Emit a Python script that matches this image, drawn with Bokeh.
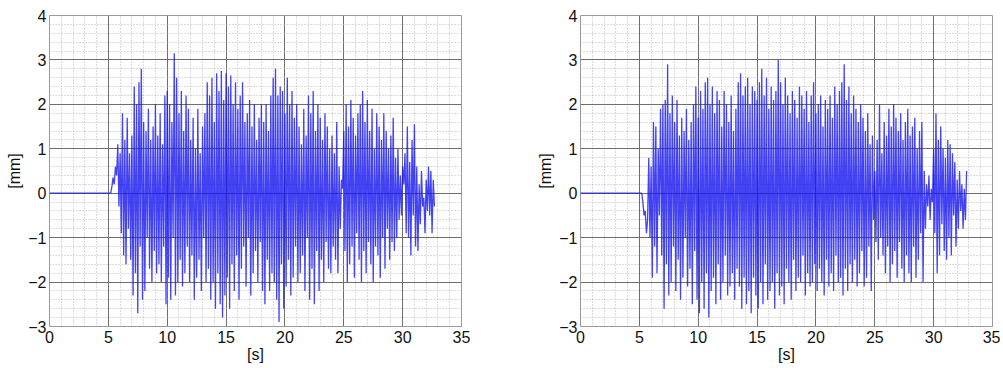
from bokeh.plotting import figure
from bokeh.layouts import row
from bokeh.models import Range1d, SingleIntervalTicker
from bokeh.embed import file_html
from bokeh.resources import INLINE

# sampling of the recorded signal (seconds)
T0 = 5.2
DT = 0.1

# left panel displacement [mm], samples from 5.2 s every 0.1 s
left_disp = [
    0.0, 0.15, 0.35, 0.2, 0.6, 0.4, 1.1, -0.3, 0.9, -0.9,
    1.8, -1.4, 1.2, -1.6, 1.7, -0.8, 0.9, -1.5, 1.3, -2.3,
    2.4, -1.8, 2.0, -2.7, 2.5, -1.2, 2.8, -2.4, 1.6, -2.2,
    1.4, -1.0, 1.9, -1.7, 1.2, -2.0, 1.5, -1.3, 2.0, -1.8,
    1.3, -1.6, 1.8, -2.0, 1.1, -1.2, 2.2, -2.5, 2.3, -1.9,
    2.0, -2.4, 1.6, -1.0, 3.15, -2.3, 2.6, -2.0, 1.8, -1.5,
    2.3, -2.1, 1.4, -1.8, 2.2, -1.2, 1.9, -2.0, 1.2, -1.4,
    1.7, -2.4, 1.0, -1.9, 1.9, -1.5, 0.9, -2.2, 1.5, -1.0,
    1.8, -2.0, 2.5, -1.7, 2.2, -2.4, 2.6, -2.0, 1.6, -2.6,
    2.7, -1.8, 2.3, -2.5, 2.75, -2.8, 2.1, -2.3, 2.7, -1.9,
    2.4, -2.6, 2.65, -1.6, 2.0, -2.2, 2.5, -1.4, 1.9, -2.4,
    2.2, -1.7, 2.5, -1.2, 1.6, -2.1, 1.8, -1.0, 2.1, -2.3,
    1.5, -1.8, 2.0, -1.3, 1.2, -2.0, 1.7, -1.1, 2.0, -2.2,
    1.6, -2.5, 2.0, -1.5, 1.4, -2.2, 2.2, -1.8, 2.6, -2.0,
    2.8, -2.4, 2.2, -2.9, 2.4, -1.6, 2.3, -2.6, 1.8, -2.1,
    2.6, -1.5, 2.0, -2.3, 2.3, -1.9, 1.7, -1.2, 2.0, -2.0,
    1.5, -1.8, 1.1, -1.4, 1.9, -2.2, 1.3, -1.0, 2.2, -2.4,
    1.8, -1.7, 2.3, -2.5, 1.4, -1.3, 2.0, -2.2, 1.7, -1.5,
    1.2, -2.0, 1.8, -1.1, 1.5, -1.7, 1.0, -1.8, 1.3, -1.2,
    0.9, -1.5, 1.6, -1.8, 0.6, -0.8, 0.3, 0.1, 1.4, -1.3,
    2.0, -2.0, 1.5, -1.6, 2.1, -1.2, 1.7, -1.9, 1.3, -0.9,
    1.8, -1.5, 2.0, -2.0, 2.3, -1.3, 1.6, -1.8, 2.1, -1.1,
    1.4, -1.6, 1.9, -2.0, 1.0, -1.2, 1.8, -1.4, 1.5, -1.9,
    1.2, -1.0, 1.8, -1.7, 1.4, -0.8, 1.0, -1.5, 1.3, -1.1,
    1.7, -1.3, 0.8, -1.0, 1.0, -0.6, 0.4, -0.5, 0.6, 0.2,
    0.9, -0.9, 1.5, -1.0, 0.7, -1.4, 1.2, -0.5, 1.55, -1.2,
    0.6, -1.3, 0.2, -0.7, 0.5, -0.3, -0.1, -0.9, 0.3, -0.4,
    0.6, -0.5, 0.5, -0.9, 0.3, -0.3,
]

# right panel displacement [mm], samples from 5.2 s every 0.1 s
right_disp = [
    0.0, -0.2, -0.5, -0.4, -0.9, -0.6, 0.8, -1.0, 0.6, -1.9,
    1.6, -1.2, 1.5, -1.8, 1.0, -0.5, 1.9, -1.4, 2.0, -2.6,
    2.1, -1.6, 2.9, -2.3, 1.8, -2.0, 2.2, -1.2, 1.6, -2.2,
    2.1, -1.5, 1.3, -2.4, 1.7, -1.9, 1.4, -1.0, 1.9, -2.1,
    1.2, -1.7, 1.6, -2.5, 2.0, -1.3, 2.4, -2.4, 1.7, -2.7,
    2.3, -2.0, 1.9, -2.6, 2.5, -1.8, 2.6, -2.8, 2.0, -2.2,
    2.4, -1.9, 1.8, -2.5, 2.3, -1.6, 2.1, -2.4, 1.5, -2.0,
    2.3, -1.4, 2.0, -2.3, 1.6, -2.1, 2.2, -1.8, 1.4, -2.4,
    1.9, -1.7, 2.5, -2.1, 2.7, -2.6, 2.2, -1.9, 2.4, -2.5,
    2.6, -2.2, 2.0, -2.7, 2.4, -1.9, 2.3, -2.3, 2.1, -2.6,
    2.5, -2.0, 2.8, -2.5, 2.2, -1.6, 2.6, -2.4, 1.9, -2.2,
    2.4, -2.0, 2.1, -2.6, 2.3, -1.8, 3.0, -2.3, 2.5, -2.1,
    2.0, -2.5, 2.6, -1.7, 2.2, -2.0, 1.8, -2.4, 2.3, -1.5,
    2.1, -2.2, 1.7, -1.9, 2.4, -2.0, 2.2, -1.4, 1.9, -2.3,
    2.3, -1.8, 1.6, -2.1, 2.2, -2.0, 2.5, -1.6, 1.8, -2.2,
    2.0, -1.7, 2.2, -2.0, 1.5, -2.3, 2.1, -1.5, 1.9, -2.1,
    2.2, -1.8, 1.7, -2.2, 2.4, -1.4, 2.0, -2.0, 2.3, -1.9,
    2.5, -2.3, 2.9, -1.7, 2.1, -2.2, 2.4, -1.6, 1.8, -2.0,
    2.2, -1.5, 1.9, -2.1, 1.6, -1.8, 2.0, -1.3, 1.7, -2.1,
    1.4, -1.9, 1.8, -1.2, 1.1, -2.2, 1.3, -0.6, 0.5, -1.1,
    1.2, -1.5, 2.0, -1.0, 0.9, -1.4, 1.6, -1.8, 1.3, -1.2,
    1.9, -2.0, 1.5, -1.6, 2.0, -1.3, 1.7, -1.9, 1.4, -1.1,
    1.8, -1.7, 1.2, -2.0, 1.6, -1.4, 1.9, -1.8, 1.3, -2.0,
    1.5, -1.2, 1.7, -1.9, 1.0, -1.5, 1.4, -0.9, 1.6, -2.0,
    0.5, -0.8, 0.2, -0.3, 0.4, -0.6, 0.1, -0.2, 1.0, -0.9,
    1.8, -1.8, 1.2, -1.4, 1.5, -0.7, 1.0, -1.3, 0.8, -1.5,
    1.2, -1.0, 1.1, -1.4, 0.9, -0.5, 0.7, -1.2, 0.3, -0.8,
    0.5, -0.4, 0.2, -0.8, 0.1, -0.6, 0.5,
]

X_TITLE = "[s]"
Y_TITLE = "[mm]"
FONT = "Liberation Sans"


def series(vals):
    t = [0.0] + [T0 + DT * i for i in range(len(vals))]
    y = [0.0] + list(vals)
    return t, y


def make(vals, border_left, border_right):
    p = figure(frame_width=412, frame_height=311,
               x_range=Range1d(0, 35), y_range=Range1d(-3, 4),
               output_backend="svg", toolbar_location=None,
               min_border_left=border_left, min_border_right=border_right,
               min_border_top=15, min_border_bottom=0,
               background_fill_color="white", border_fill_color="white")
    t, y = series(vals)
    p.line(t, y, line_color="#1414f0", line_width=1.3, line_alpha=0.8)

    p.xaxis.ticker = SingleIntervalTicker(interval=5, num_minor_ticks=5)
    p.yaxis.ticker = SingleIntervalTicker(interval=1, num_minor_ticks=5)

    p.xgrid.grid_line_color = "#6e6e6e"
    p.ygrid.grid_line_color = "#6e6e6e"
    p.xgrid.grid_line_width = 1
    p.ygrid.grid_line_width = 1
    for g in (p.xgrid, p.ygrid):
        g.minor_grid_line_color = "#b8b8b8"
        g.minor_grid_line_dash = "1 2"
        g.minor_grid_line_width = 1

    p.outline_line_color = "#9a9a9a"
    p.outline_line_width = 1

    for ax in (p.xaxis, p.yaxis):
        ax.axis_line_color = None
        ax.major_tick_line_color = None
        ax.minor_tick_line_color = None
        ax.major_tick_out = 0
        ax.minor_tick_out = 0
        ax.major_label_text_font = FONT
        ax.major_label_text_font_size = "16px"
        ax.major_label_text_color = "#111111"
        ax.axis_label_text_font = FONT
        ax.axis_label_text_font_size = "16px"
        ax.axis_label_text_font_style = "normal"
        ax.axis_label_text_color = "#111111"
        ax.axis_label_standoff = 0
    p.xaxis.major_label_standoff = 4
    p.yaxis.major_label_standoff = 3
    p.yaxis.axis_label_standoff = 2
    p.xaxis.axis_label = X_TITLE
    p.yaxis.axis_label = Y_TITLE
    return p


p1 = make(left_disp, 49, 10)
p2 = make(right_disp, 109, 8)
layout = row(p1, p2)

open("out.html", "w").write(file_html(layout, INLINE))
